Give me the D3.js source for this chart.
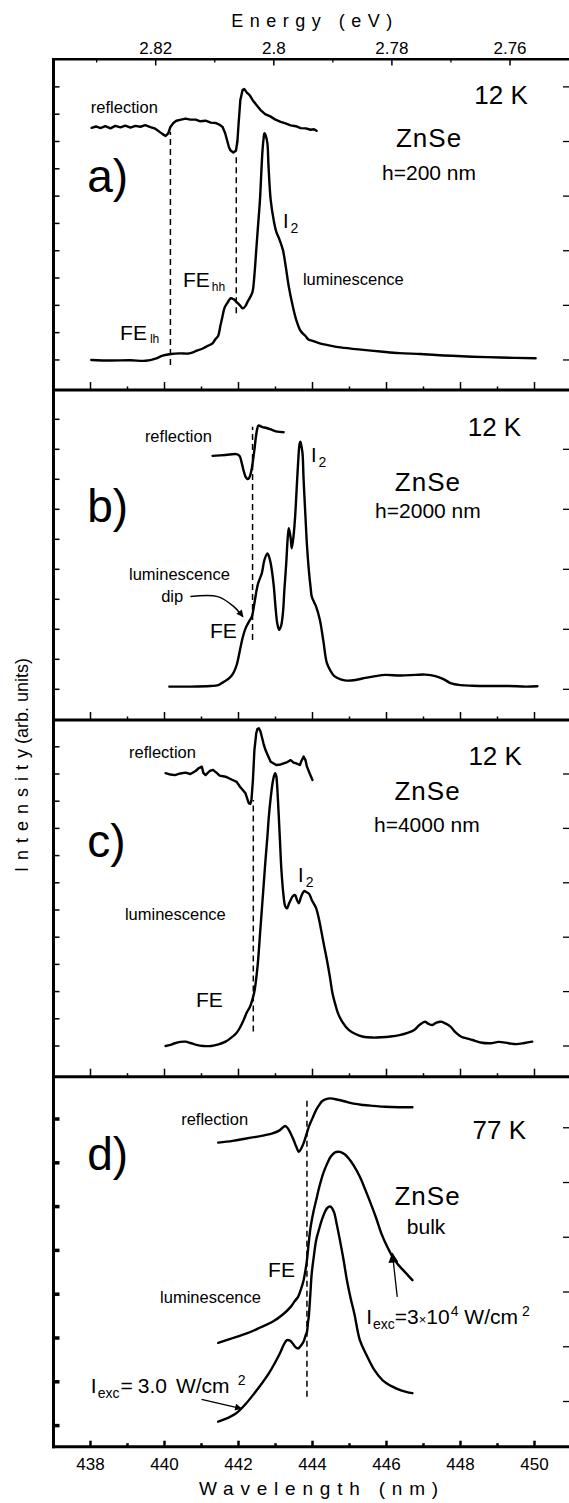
<!DOCTYPE html>
<html><head><meta charset="utf-8">
<script src="https://cdn.jsdelivr.net/npm/d3@7"></script>
<style>
body{margin:0;background:#fff}
svg{display:block}
text{font-family:Arial,"Liberation Sans",Helvetica,sans-serif;fill:#000}
</style>
</head><body>
<svg id="chart" width="569" height="1503"></svg>
<script>
// ---------- axis ticks ----------
const wavelengthTicks = [438, 440, 442, 444, 446, 448, 450];
const wavelengthMinor = [439, 441, 443, 445, 447, 449];
const energyTicks = [2.82, 2.80, 2.78, 2.76];
const energyLabels = ["2.82", "2.8", "2.78", "2.76"];
const energyMinor = [2.83, 2.81, 2.79, 2.77];

// ---------- panel a (12 K, h=200 nm) ----------
const aReflection = [[438.03,8.50],[438.15,8.55],[438.27,8.49],[438.40,8.56],[438.54,8.48],[438.67,8.57],[438.81,8.52],[438.94,8.58],[439.08,8.51],[439.21,8.57],[439.35,8.54],[439.48,8.60],[439.62,8.53],[439.75,8.47],[439.84,8.38],[439.95,8.27],[440.03,8.20],[440.10,8.30],[440.16,8.53],[440.24,8.68],[440.32,8.76],[440.45,8.80],[440.57,8.84],[440.70,8.80],[440.84,8.80],[440.97,8.74],[441.11,8.76],[441.25,8.69],[441.38,8.68],[441.48,8.62],[441.57,8.53],[441.64,8.30],[441.68,8.10],[441.74,7.80],[441.78,7.68],[441.86,7.60],[441.93,7.66],[441.97,8.00],[442.00,8.61],[442.05,9.52],[442.11,9.89],[442.16,9.92],[442.22,9.80],[442.30,9.70],[442.38,9.52],[442.48,9.35],[442.59,9.16],[442.72,9.00],[442.86,8.92],[443.00,8.80],[443.14,8.72],[443.27,8.66],[443.41,8.59],[443.55,8.56],[443.68,8.49],[443.82,8.48],[443.95,8.43],[444.04,8.45],[444.11,8.39]];
const aLuminescence = [[438.02,0.00],[438.54,-0.02],[439.08,-0.01],[439.49,-0.03],[439.76,0.05],[439.95,0.16],[440.18,0.22],[440.43,0.24],[440.67,0.24],[440.86,0.33],[441.05,0.43],[441.19,0.53],[441.30,0.61],[441.38,0.77],[441.45,0.88],[441.51,1.25],[441.57,1.61],[441.62,1.90],[441.70,2.09],[441.79,2.26],[441.86,2.23],[441.95,2.12],[442.05,1.98],[442.12,1.89],[442.19,1.98],[442.24,2.12],[442.32,2.31],[442.38,2.50],[442.43,3.11],[442.48,4.03],[442.53,4.95],[442.58,5.86],[442.62,6.96],[442.65,7.69],[442.68,8.13],[442.70,8.30],[442.73,8.24],[442.78,7.94],[442.81,7.14],[442.87,5.86],[442.95,5.13],[443.02,4.70],[443.11,4.40],[443.20,4.03],[443.27,3.48],[443.36,2.68],[443.46,2.01],[443.56,1.47],[443.68,1.06],[443.81,0.88],[443.89,0.75],[444.00,0.70],[444.22,0.60],[444.39,0.55],[444.76,0.46],[445.37,0.37],[445.84,0.31],[446.35,0.25],[446.92,0.22],[447.34,0.18],[448.32,0.12],[449.08,0.09],[450.03,0.06]];

// ---------- panel b (12 K, h=2000 nm) ----------
const bReflection = [[441.30,7.78],[441.65,7.81],[441.94,7.84],[442.03,7.78],[442.09,7.53],[442.14,7.28],[442.19,7.09],[442.24,7.01],[442.28,7.03],[442.34,7.24],[442.38,7.53],[442.43,7.98],[442.46,8.31],[442.50,8.64],[442.54,8.79],[442.65,8.74],[442.76,8.71],[442.92,8.64],[443.05,8.59],[443.22,8.57]];
const bLuminescence = [[440.13,0.09],[440.70,0.09],[441.24,0.11],[441.45,0.14],[441.59,0.24],[441.75,0.37],[441.86,0.54],[441.95,0.81],[442.04,1.31],[442.11,1.71],[442.19,2.03],[442.28,2.25],[442.36,2.42],[442.43,2.87],[442.49,3.31],[442.53,3.53],[442.63,3.87],[442.70,4.31],[442.78,4.53],[442.82,4.44],[442.87,4.20],[442.95,3.48],[443.00,2.75],[443.05,2.18],[443.10,1.98],[443.15,2.11],[443.20,2.53],[443.24,3.31],[443.29,4.20],[443.33,5.04],[443.36,5.37],[443.41,5.04],[443.44,4.70],[443.49,5.14],[443.53,5.75],[443.57,6.64],[443.61,7.53],[443.65,8.18],[443.67,8.25],[443.70,8.11],[443.73,7.87],[443.76,6.98],[443.81,5.75],[443.85,4.81],[443.90,3.98],[443.95,3.38],[443.98,3.09],[444.04,2.91],[444.10,2.75],[444.20,2.31],[444.29,1.64],[444.39,0.87],[444.49,0.61],[444.59,0.44],[444.76,0.33],[444.92,0.29],[445.16,0.31],[445.43,0.38],[445.70,0.44],[445.97,0.48],[446.38,0.46],[446.78,0.48],[447.05,0.49],[447.32,0.44],[447.54,0.34],[447.73,0.21],[448.00,0.14],[448.32,0.12],[448.81,0.11],[449.30,0.11],[449.76,0.09],[450.08,0.10]];

// ---------- panel c (12 K, h=4000 nm) ----------
const cReflection = [[440.03,10.03],[440.16,9.98],[440.28,9.96],[440.43,10.02],[440.57,10.05],[440.70,10.00],[440.84,10.11],[440.93,10.22],[441.01,10.27],[441.05,10.04],[441.11,9.96],[441.22,10.11],[441.31,10.15],[441.41,10.04],[441.49,9.94],[441.65,9.90],[441.84,9.78],[441.95,9.71],[442.04,9.53],[442.19,9.29],[442.24,9.08],[442.28,8.92],[442.32,8.90],[442.35,9.04],[442.39,9.78],[442.43,10.88],[442.48,11.50],[442.51,11.65],[442.55,11.68],[442.59,11.58],[442.63,11.37],[442.68,11.10],[442.73,10.88],[442.80,10.66],[442.87,10.45],[443.02,10.33],[443.14,10.35],[443.22,10.39],[443.32,10.44],[443.41,10.51],[443.49,10.42],[443.56,10.39],[443.66,10.33],[443.70,10.48],[443.76,10.64],[443.81,10.51],[443.85,10.27],[443.93,10.00],[444.00,9.78]];
const cLuminescence = [[440.03,0.00],[440.16,0.04],[440.28,0.10],[440.43,0.15],[440.57,0.16],[440.70,0.11],[440.86,0.04],[441.05,0.00],[441.26,0.00],[441.46,0.06],[441.65,0.16],[441.78,0.28],[441.94,0.47],[442.05,0.70],[442.14,0.96],[442.23,1.25],[442.31,1.44],[442.38,1.73],[442.43,2.00],[442.49,2.61],[442.53,3.16],[442.58,4.08],[442.63,5.00],[442.68,5.92],[442.73,6.84],[442.78,7.68],[442.82,8.43],[442.87,9.12],[442.92,9.66],[442.96,9.93],[442.99,10.03],[443.02,9.93],[443.04,9.66],[443.08,8.68],[443.12,7.57],[443.16,6.47],[443.22,5.49],[443.26,5.15],[443.31,5.06],[443.36,5.22],[443.41,5.37],[443.47,5.51],[443.53,5.55],[443.58,5.37],[443.63,5.25],[443.68,5.44],[443.73,5.61],[443.78,5.70],[443.82,5.67],[443.91,5.59],[443.98,5.37],[444.10,5.06],[444.18,4.63],[444.25,4.14],[444.32,3.64],[444.39,3.16],[444.47,2.54],[444.54,1.94],[444.62,1.51],[444.69,1.20],[444.81,0.88],[444.98,0.59],[445.16,0.44],[445.37,0.34],[445.62,0.31],[445.86,0.32],[446.11,0.35],[446.35,0.40],[446.57,0.48],[446.75,0.59],[446.89,0.77],[447.04,0.89],[447.14,0.81],[447.24,0.77],[447.35,0.86],[447.48,0.89],[447.59,0.83],[447.73,0.71],[447.86,0.51],[448.02,0.34],[448.16,0.28],[448.32,0.22],[448.54,0.13],[448.81,0.10],[449.03,0.15],[449.30,0.10],[449.51,0.07],[449.73,0.11],[449.94,0.16]];

// ---------- panel d (77 K, bulk) ----------
const dReflection = [[441.45,6.46],[441.84,6.50],[442.24,6.56],[442.59,6.61],[442.92,6.67],[443.11,6.74],[443.26,6.84],[443.34,6.78],[443.41,6.67],[443.49,6.52],[443.56,6.37],[443.63,6.25],[443.69,6.32],[443.76,6.45],[443.83,6.63],[443.90,6.82],[444.00,7.02],[444.10,7.21],[444.19,7.33],[444.25,7.40],[444.35,7.45],[444.49,7.47],[444.68,7.44],[444.88,7.40],[445.11,7.35],[445.37,7.32],[445.65,7.30],[445.96,7.28],[446.32,7.27],[446.70,7.27]];
const dLumHigh = [[441.45,1.89],[441.78,1.98],[442.24,2.11],[442.59,2.24],[442.92,2.37],[443.19,2.53],[443.41,2.71],[443.51,2.83],[443.61,2.94],[443.69,3.12],[443.76,3.32],[443.81,3.55],[443.85,3.78],[443.90,4.19],[443.95,4.54],[444.03,4.90],[444.10,5.15],[444.19,5.47],[444.29,5.76],[444.39,5.97],[444.49,6.14],[444.61,6.24],[444.74,6.25],[444.86,6.20],[444.98,6.10],[445.12,5.93],[445.28,5.68],[445.42,5.40],[445.57,5.08],[445.72,4.74],[445.86,4.39],[446.01,4.10],[446.16,3.86],[446.30,3.69],[446.45,3.55],[446.57,3.44],[446.70,3.32]];
const dLumLow = [[441.45,0.09],[441.70,0.17],[441.94,0.28],[442.19,0.49],[442.43,0.74],[442.62,0.95],[442.82,1.19],[442.97,1.41],[443.12,1.65],[443.22,1.84],[443.31,1.95],[443.39,1.94],[443.46,1.88],[443.54,1.79],[443.61,1.76],[443.69,1.83],[443.76,1.92],[443.81,2.05],[443.85,2.14],[443.88,2.37],[443.90,2.49],[443.94,2.98],[443.98,3.48],[444.04,3.89],[444.10,4.24],[444.18,4.49],[444.25,4.69],[444.32,4.85],[444.39,4.96],[444.45,5.00],[444.49,5.00],[444.54,4.95],[444.59,4.85],[444.66,4.58],[444.74,4.24],[444.84,3.78],[444.93,3.32],[445.03,2.91],[445.13,2.56],[445.28,1.95],[445.46,1.61],[445.67,1.27],[445.89,1.04],[446.16,0.89],[446.41,0.80],[446.70,0.74]];

// dashed marker lines: [wavelength, from, to]
const aDashes = [[440.16,-0.18,8.36],[441.94,1.71,7.51]];
const bDashes = [[442.38,1.64,8.75]];
const cDashes = [[442.40,0.53,9.04]];
const dDashes = [[443.85,0.66,7.43]];

// left / right intensity ticks (arb. units)
const aLeftTicks = d3.range(0, 11), aRightTicks = [0,2,4,6,8,10];
const bLeftTicks = d3.range(0, 10), bRightTicks = [0,2,4,6,8];
const cLeftTicks = d3.range(0, 12), cRightTicks = [0,2,4,6,8,10];
const dLeftTicks = d3.range(0, 8),  dRightTicks = [0.55,1.8,3.05,4.3,5.55,6.8];

// ---------- layout ----------
const svg = d3.select("#chart");
const x = d3.scaleLinear().domain([437, 451]).range([53.5, 571.5]);
const eX = d3.scaleLinear().domain([2.82, 2.76]).range([155.7, 510]);

const smooth = d3.curveCatmullRom.alpha(0.5);
const jagged = d3.curveLinear;
const panels = [
  {top:59.3, bottom:390, dom:[-1.1, 11.01], left:aLeftTicks, right:aRightTicks, thick:false,
   series:[[aReflection, jagged], [aLuminescence, smooth]], dashes:aDashes},
  {top:390, bottom:720, dom:[-1.023, 9.977], left:bLeftTicks, right:bRightTicks, thick:false,
   series:[[bReflection, smooth], [bLuminescence, smooth]], dashes:bDashes},
  {top:720, bottom:1076.7, dom:[-1.129, 11.985], left:cLeftTicks, right:cRightTicks, thick:false,
   series:[[cReflection, jagged], [cLuminescence, smooth]], dashes:cDashes},
  {top:1076.7, bottom:1446.7, dom:[-0.482, 7.966], left:dLeftTicks, right:dRightTicks, thick:true,
   series:[[dReflection, smooth], [dLumHigh, smooth], [dLumLow, smooth]], dashes:dDashes}
];
panels.forEach(p => { p.y = d3.scaleLinear().domain(p.dom).range([p.bottom, p.top]); });

const defs = svg.append("defs");
defs.append("marker").attr("id","ah").attr("viewBox","0 0 10 10").attr("refX",9).attr("refY",5)
  .attr("markerWidth",9).attr("markerHeight",7).attr("markerUnits","userSpaceOnUse").attr("orient","auto")
  .append("path").attr("d","M0,0 L10,5 L0,10 Z").attr("fill","#000");
defs.append("marker").attr("id","ah2").attr("viewBox","0 0 10 10").attr("refX",9).attr("refY",5)
  .attr("markerWidth",13).attr("markerHeight",10).attr("markerUnits","userSpaceOnUse").attr("orient","auto")
  .append("path").attr("d","M0,0 L10,5 L0,10 Z").attr("fill","#000");

panels.forEach((p, i) => {
  const g = svg.append("g");
  p.dashes.forEach(d => {
    g.append("line").attr("x1", x(d[0])).attr("x2", x(d[0]))
      .attr("y1", p.y(d[1])).attr("y2", p.y(d[2]))
      .attr("stroke","#000").attr("stroke-width",1.5).attr("stroke-dasharray","6,4");
  });
  p.series.forEach(([s, c]) => {
    const gen = d3.line().x(d => x(d[0])).y(d => p.y(d[1])).curve(c);
    g.append("path").datum(s).attr("d", gen)
      .attr("fill","none").attr("stroke","#000").attr("stroke-width",2.4)
      .attr("stroke-linejoin","round").attr("stroke-linecap","round");
  });

  // left ticks (inward)
  g.selectAll(null).data(p.left).join("line")
    .attr("x1", x(437)).attr("x2", x(437) + 6)
    .attr("y1", d => p.y(d)).attr("y2", d => p.y(d))
    .attr("stroke","#000").attr("stroke-width", p.thick ? 3.5 : 1.5);
  // right ticks (inward)
  g.selectAll(null).data(p.right).join("line")
    .attr("x1", 569).attr("x2", 563)
    .attr("y1", d => p.y(d)).attr("y2", d => p.y(d))
    .attr("stroke","#000").attr("stroke-width",1.3);
  // bottom wavelength ticks (pointing up)
  g.selectAll(null).data(wavelengthTicks).join("line")
    .attr("x1", d => x(d)).attr("x2", d => x(d))
    .attr("y1", p.bottom).attr("y2", p.bottom - (i === 3 ? 6 : 8))
    .attr("stroke","#000").attr("stroke-width", i === 3 ? 2.5 : 1.5);
  g.selectAll(null).data(wavelengthMinor).join("line")
    .attr("x1", d => x(d)).attr("x2", d => x(d))
    .attr("y1", p.bottom).attr("y2", p.bottom - 3.5)
    .attr("stroke","#000").attr("stroke-width", i === 3 ? 2.5 : 1.5);
  // panel bottom border
  g.append("line").attr("x1", x(437) - 1.5).attr("x2", 569)
    .attr("y1", p.bottom).attr("y2", p.bottom).attr("stroke","#000").attr("stroke-width",3);
});

// frame: top border and left border
svg.append("line").attr("x1", x(437) - 1.5).attr("x2", 569).attr("y1", 59.3).attr("y2", 59.3)
  .attr("stroke","#000").attr("stroke-width",2.5);
svg.append("line").attr("x1", x(437)).attr("x2", x(437)).attr("y1", 58).attr("y2", 1448.2)
  .attr("stroke","#000").attr("stroke-width",3);

// energy axis on top
svg.selectAll(null).data(energyTicks).join("line")
  .attr("x1", d => eX(d)).attr("x2", d => eX(d)).attr("y1", 59.3).attr("y2", 65.5)
  .attr("stroke","#000").attr("stroke-width",1.5);
svg.selectAll(null).data(energyMinor).join("line")
  .attr("x1", d => eX(d)).attr("x2", d => eX(d)).attr("y1", 59.3).attr("y2", 62.5)
  .attr("stroke","#000").attr("stroke-width",1.3);
svg.selectAll(null).data(energyTicks).join("text")
  .attr("x", d => eX(d)).attr("y", 54).attr("text-anchor","middle")
  .style("font-size","17px").text((d, i) => energyLabels[i]);
svg.append("text").attr("x", 315).attr("y", 26.7).attr("text-anchor","middle")
  .style("font-size","18px").style("letter-spacing","6.5px").text("Energy (eV)");

// wavelength axis at bottom
svg.selectAll(null).data(wavelengthTicks).join("text")
  .attr("x", d => x(d)).attr("y", 1470).attr("text-anchor","middle")
  .style("font-size","17px").text(d => d);
svg.append("text").attr("x", 322).attr("y", 1495).attr("text-anchor","middle")
  .style("font-size","19px").style("letter-spacing","6.8px").text("Wavelength (nm)");

// y axis label
const yl = svg.append("text").attr("transform","translate(27.5,872) rotate(-90)")
  .style("font-size","18px");
yl.append("tspan").style("letter-spacing","7px").text("Intensity");
yl.append("tspan").attr("dx", -2).text("(arb. units)");

// ---------- annotations ----------
function label(p, lam, v, parts, anchor) {
  const t = svg.append("text").attr("x", x(lam)).attr("y", panels[p].y(v))
    .attr("text-anchor", anchor || "start");
  parts.forEach(q => {
    const s = t.append("tspan").style("font-size", q[1] + "px").text(q[0]);
    if (q[2]) s.attr("dy", q[2]);
    if (q[3]) s.attr("dx", q[3]);
    if (q[4]) s.style("letter-spacing", q[4] + "px");
  });
  return t;
}
// panel a
label(0, 438.01, 9.04, [["reflection",16.5]]);
label(0, 449.82, 9.38, [["12 K",26]], "end");
label(0, 447.15, 7.81, [["ZnSe",26,0,0,1]], "middle");
label(0, 447.15, 6.59, [["h=200 nm",21]], "middle");
label(0, 437.91, 6.16, [["a)",46]]);
label(0, 443.20, 4.84, [["I",20],["2",14,5,2]]);
label(0, 440.50, 2.68, [["FE",21],["hh",12,4,2]]);
label(0, 443.74, 2.75, [["luminescence",16.5]]);
label(0, 438.80, 0.73, [["FE",21],["lh",12,3,3]]);
// panel b
label(1, 439.47, 8.25, [["reflection",16.5]]);
label(1, 449.64, 8.44, [["12 K",26]], "end");
label(1, 443.96, 7.59, [["I",20],["2",14,5,2]]);
label(1, 447.12, 6.61, [["ZnSe",26,0,0,1]], "middle");
label(1, 447.12, 5.70, [["h=2000 nm",21]], "middle");
label(1, 437.91, 5.59, [["b)",46]]);
label(1, 439.04, 3.64, [["luminescence",16.5]]);
label(1, 439.91, 2.92, [["dip",16.5]]);
label(1, 441.23, 1.70, [["FE",21]]);
// panel c
label(2, 439.04, 10.58, [["reflection",16.5]]);
label(2, 449.66, 10.33, [["12 K",26]], "end");
label(2, 447.11, 9.04, [["ZnSe",26,0,0,1]], "middle");
label(2, 447.09, 7.88, [["h=4000 nm",21]], "middle");
label(2, 437.91, 6.96, [["c)",46]]);
label(2, 443.61, 6.04, [["I",20],["2",14,5,2]]);
label(2, 438.93, 4.63, [["luminescence",16.5]]);
label(2, 440.85, 1.44, [["FE",21]]);
// panel d
label(3, 440.45, 6.86, [["reflection",16.5]]);
label(3, 449.77, 6.54, [["77 K",26]], "end");
label(3, 437.91, 5.84, [["d)",46]]);
label(3, 447.11, 5.04, [["ZnSe",26,0,0,1]], "middle");
label(3, 447.07, 4.37, [["bulk",21]], "middle");
label(3, 442.80, 3.39, [["FE",21]]);
label(3, 439.88, 2.79, [["luminescence",16.5]]);
label(3, 445.45, 2.32, [["I",21],["exc",14,5,1],["=3",21,-5],["×",13],["10",21],["4",14,-8,1],[" W/cm",21,8],["2",14,-8,4]]);
label(3, 438.01, 0.74, [["I",21],["exc",14,5,1],["=",21,-5,1],["3.0",21,0,5],["W/cm",21,0,9],["2",14,-8,8]]);

// arrows
const arrowB = [[440.70,3.09],[441.44,3.09],[441.88,2.75],[442.12,2.42]];
svg.append("path").datum(arrowB)
  .attr("d", d3.line().x(d => x(d[0])).y(d => panels[1].y(d[1])).curve(smooth))
  .attr("fill","none").attr("stroke","#000").attr("stroke-width",1.5).attr("marker-end","url(#ah)");
const arrowDHigh = [[446.29,2.94],[446.16,3.93]];
svg.append("line").attr("x1", x(arrowDHigh[0][0])).attr("y1", panels[3].y(arrowDHigh[0][1]))
  .attr("x2", x(arrowDHigh[1][0])).attr("y2", panels[3].y(arrowDHigh[1][1]))
  .attr("stroke","#000").attr("stroke-width",1.3).attr("marker-end","url(#ah2)");
const arrowDLow = [[441.00,0.60],[442.08,0.39]];
svg.append("line").attr("x1", x(arrowDLow[0][0])).attr("y1", panels[3].y(arrowDLow[0][1]))
  .attr("x2", x(arrowDLow[1][0])).attr("y2", panels[3].y(arrowDLow[1][1]))
  .attr("stroke","#000").attr("stroke-width",1.3).attr("marker-end","url(#ah)");
</script>
</body></html>
